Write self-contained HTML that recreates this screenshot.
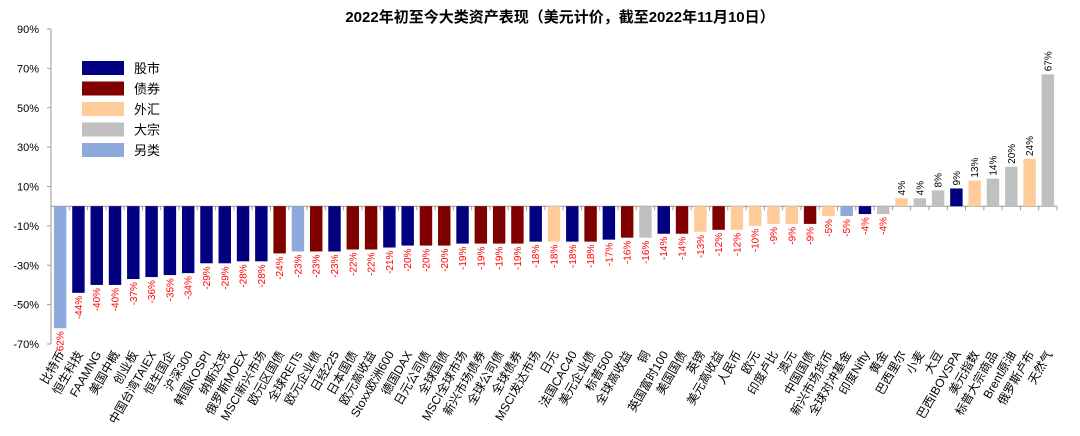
<!DOCTYPE html>
<html><head><meta charset="utf-8"><style>
body{margin:0;background:#fff;}
svg text{font-family:"Liberation Sans","Noto Sans CJK SC",sans-serif;}
</style></head><body>
<svg id="chart" width="1080" height="431" xmlns="http://www.w3.org/2000/svg">
<text x="560" y="22" text-anchor="middle" font-size="15" font-weight="bold" fill="#000">2022年初至今大类资产表现（美元计价，截至2022年11月10日）</text>
<g id="axes"></g><g id="bars"></g><g id="legend"></g>
</svg>
<script>
const categories=["比特币","恒生科技","FAAMNG","美国中概","创业板","中国台湾TAIEX","恒生国企","沪深300","韩国KOSPI","纳斯达克","俄罗斯MOEX","MSCI新兴市场","欧元区国债","全球REITs","欧元企业债","日经225","日本国债","欧元高收益","Stoxx欧洲600","德国DAX","日元公司债","全球国债","MSCI全球市场","新兴市场债券","全球公司债","全球债券","MSCI发达市场","日元","法国CAC40","美元企业债","标普500","全球高收益","铜","英国富时100","美国国债","英镑","美元高收益","人民币","欧元","印度卢比","澳元","中国国债","新兴市场货币","全球对冲基金","印度Nifty","黄金","巴西里尔","小麦","大豆","巴西IBOVSPA","美元指数","标普大宗商品","Brent原油","俄罗斯卢布","天然气"];
const values=[-62,-44,-40,-40,-37,-36,-35,-34,-29,-29,-28,-28,-24,-23,-23,-23,-22,-22,-21,-20,-20,-20,-19,-19,-19,-19,-18,-18,-18,-18,-17,-16,-16,-14,-14,-13,-12,-12,-10,-9,-9,-9,-5,-5,-4,-4,4,4,8,9,13,14,20,24,67];
const types=["o","s","s","s","s","s","s","s","s","s","s","s","b","o","b","s","b","b","s","s","b","b","s","b","b","b","s","f","s","b","s","b","c","s","b","f","b","f","f","f","f","b","f","o","s","c","f","c","c","s","f","c","c","f","c"];
const yTicks=[90,70,50,30,10,-10,-30,-50,-70];
const legendLabels=["股市","债券","外汇","大宗","另类"];
const legendKeys=["s","b","f","c","o"];
const colors={s:"#000080",b:"#800000",f:"#FFCC99",c:"#C0C0C0",o:"#8EA9DB"};
const NS="http://www.w3.org/2000/svg";
const x0=51,x1=1057,yTop=29,yBot=344,vMax=90,vMin=-70;
const band=(x1-x0)/categories.length;
const y=v=>yTop+(vMax-v)*(yBot-yTop)/(vMax-vMin);
const xc=i=>x0+band*(i+0.5);
function mk(tag,attrs,parent,txt){const e=document.createElementNS(NS,tag);for(const k in attrs)e.setAttribute(k,attrs[k]);if(txt!==undefined)e.textContent=txt;parent.appendChild(e);return e;}
const axes=document.getElementById('axes'),bars=document.getElementById('bars'),leg=document.getElementById('legend');
const ya=mk('line',{x1:x0,x2:x0,y1:yTop,y2:yBot,stroke:'#999'},axes);


yTicks.forEach(t=>{
  const tk=mk('line',{x1:x0-4,x2:x0,y1:y(t),y2:y(t),stroke:'#999'},axes);
  
  
  const lb=mk('text',{x:x0-12,y:y(t)+4,'text-anchor':'end','font-size':11,fill:'#000'},axes,t+'%');
  
  
});
const za=mk('line',{x1:x0,x2:x1,y1:y(0),y2:y(0),stroke:'#999'},axes);


categories.forEach((c,i)=>{
  const v=values[i],bw=band*0.68;
  const tk=mk('line',{x1:x0+band*(i+1),x2:x0+band*(i+1),y1:y(0),y2:y(0)+4,stroke:'#999'},axes);
  
  
  const r=mk('rect',{x:xc(i)-bw/2,y:Math.min(y(v),y(0)),width:bw,height:Math.abs(y(v)-y(0)),fill:colors[types[i]]},bars);
  
  
  const ly=v<0?y(v)+3:y(v)-3;
  const vl=mk('text',{x:xc(i)+3.5,y:ly,'text-anchor':v<0?'end':'start','font-size':10,fill:v<0?'#FF0000':'#000',transform:`rotate(-90 ${xc(i)+3.5} ${ly})`},bars,v+'%');
  
  
  const cx=xc(i)+5,cy=354;
  const cl=mk('text',{x:cx,y:cy,'text-anchor':'end','font-size':12,fill:'#000',transform:`rotate(-60 ${cx} ${cy})`},bars,c);
  
  
});
legendLabels.forEach((l,i)=>{
  const ly=61+i*20.5;
  const r=mk('rect',{x:82,y:ly,width:42,height:14,fill:colors[legendKeys[i]]},leg);
  
  
  const t=mk('text',{x:134,y:ly+12,'font-size':13,fill:'#000'},leg,l);
  
  
});
</script>
</body></html>
